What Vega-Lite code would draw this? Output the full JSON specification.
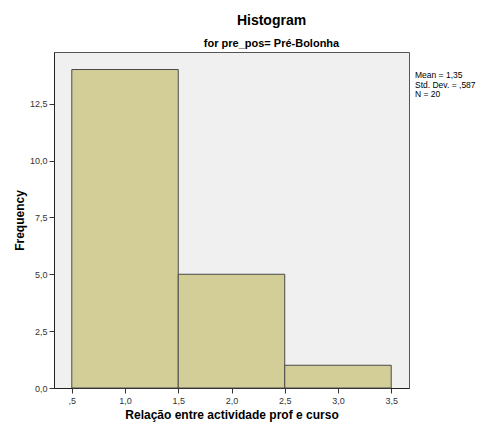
{
  "$schema": "https://vega.github.io/schema/vega-lite/v6.json",
  "autosize": {"type": "none"},
  "width": 355,
  "height": 336,
  "padding": {"left": 54, "top": 52, "right": 73, "bottom": 42},
  "background": "white",
  "config": {
    "font": "Liberation Sans",
    "view": {"fill": "#F0F0F0", "stroke": "#555555", "strokeWidth": 1}
  },
  "title": {
    "text": "Histogram",
    "subtitle": "for pre_pos= Pré-Bolonha",
    "anchor": "middle",
    "dx": 40,
    "offset": 3,
    "font": "Liberation Sans",
    "fontSize": 14,
    "fontWeight": "bold",
    "color": "#000000",
    "subtitleFont": "Liberation Sans",
    "subtitleFontSize": 11,
    "subtitleFontWeight": "bold",
    "subtitleColor": "#000000",
    "subtitlePadding": 10
  },
  "data": {
    "values": [
      {"bin_start": 0.5, "bin_end": 1.5, "count": 14},
      {"bin_start": 1.5, "bin_end": 2.5, "count": 5},
      {"bin_start": 2.5, "bin_end": 3.5, "count": 1}
    ]
  },
  "layer": [
    {
      "mark": {"type": "rect", "fill": "#D3CE98", "stroke": "#4a4a4a", "strokeWidth": 1},
      "encoding": {
        "x": {
          "field": "bin_start",
          "type": "quantitative",
          "scale": {"domain": [0.333, 3.667], "nice": false, "zero": false},
          "axis": {
            "title": "Relação  entre actividade prof e curso",
            "titleFont": "Liberation Sans",
            "titleFontSize": 12,
            "titleFontWeight": "bold",
            "titleColor": "#000000",
            "titlePadding": 4,
            "values": [0.5, 1, 1.5, 2, 2.5, 3, 3.5],
            "labelExpr": "datum.value < 1 ? ',5' : replace(format(datum.value, '.1f'), '.', ',')",
            "labelFontSize": 9,
            "labelColor": "#333333",
            "labelPadding": 3,
            "tickColor": "#333333",
            "tickSize": 5,
            "domainColor": "#222222",
            "grid": false
          }
        },
        "x2": {"field": "bin_end"},
        "y": {
          "field": "count",
          "type": "quantitative",
          "scale": {"domain": [0, 14.77], "nice": false},
          "axis": {
            "title": "Frequency",
            "titleFont": "Liberation Sans",
            "titleFontSize": 12,
            "titleFontWeight": "bold",
            "titleColor": "#000000",
            "titlePadding": 3,
            "values": [0, 2.5, 5, 7.5, 10, 12.5],
            "labelExpr": "replace(format(datum.value, '.1f'), '.', ',')",
            "labelFontSize": 9,
            "labelColor": "#333333",
            "labelPadding": 2,
            "tickColor": "#333333",
            "tickSize": 5,
            "domainColor": "#222222",
            "grid": false
          }
        },
        "y2": {"datum": 0}
      }
    },
    {
      "data": {"values": [{"stats": "Mean = 1,35\nStd. Dev. = ,587\nN = 20"}]},
      "mark": {
        "type": "text",
        "align": "left",
        "baseline": "top",
        "lineBreak": "\n",
        "fontSize": 8.5,
        "font": "Liberation Sans",
        "color": "#000000",
        "dx": 6,
        "dy": 19,
        "lineHeight": 9.5,
        "clip": false
      },
      "encoding": {
        "x": {"datum": 3.667, "type": "quantitative"},
        "y": {"datum": 14.77, "type": "quantitative"},
        "text": {"field": "stats"}
      }
    }
  ]
}
